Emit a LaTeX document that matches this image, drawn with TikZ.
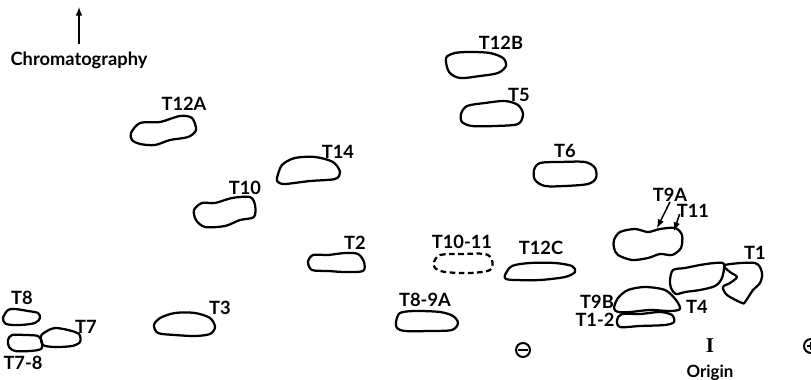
\documentclass[tikz,border=0pt]{standalone}
\usepackage{fontspec}
\setmainfont{Lato}
\newfontfamily\serifI{Liberation Serif}
\usepackage{tikz}
\usetikzlibrary{arrows,positioning,calc}

\tikzset{
  spot/.style={line width=1.6pt, line join=round},
  faint/.style={spot, dashed, dash pattern=on 4pt off 2.5pt},
  lbl/.style={inner sep=0pt, font=\fontsize{13}{15}\selectfont\bfseries},
  pointer/.style={-latex, line width=1.1pt}
}

\begin{document}
\begin{tikzpicture}[x=0.025cm, y=-0.025cm]
\useasboundingbox (0,0) rectangle (811,380);

% direction of chromatography
\node[lbl] (chrom) at (79,60) {Chromatography};
\coordinate (chromtop) at (79,7);
\draw[pointer, shorten <=5pt] (chrom.north) -- (chromtop);

% upper spots
\draw[spot] plot[smooth cycle] coordinates {(131,133) (140,123) (160,122) (180,116) (192,118) (196,130) (188,137) (170,140) (155,145) (140,144) (132,140)};
\node[lbl] (t12a) at (184,104) {T12A};

\draw[spot] plot[smooth cycle] coordinates {(277,178) (282,165) (295,158) (315,157) (333,162) (340,172) (335,179) (310,181) (285,184) (278,182)};
\node[lbl] (t14) at (338,152) {T14};

\draw[spot] plot[smooth cycle] coordinates {(194,210) (202,203) (215,203) (232,198) (250,197) (255,205) (254,217) (240,220) (225,226) (205,227) (196,220)};
\node[lbl] (t10) at (245,188) {T10};

\draw[spot] plot[smooth cycle] coordinates {(446,58) (455,53) (470,52) (490,53) (503,58) (506,66) (498,73) (480,76) (460,78) (449,72)};
\node[lbl] (t12b) at (501,43) {T12B};

\draw[spot] plot[smooth cycle] coordinates {(461,114) (467,106) (485,103) (505,101) (518,105) (523,114) (518,124) (495,126) (472,126) (462,122)};
\node[lbl] (t5) at (519,95) {T5};

\draw[spot] plot[smooth cycle] coordinates {(534,170) (540,163) (560,162) (585,162) (595,168) (596,178) (588,184) (565,186) (545,186) (535,180)};
\node[lbl] (t6) at (565,151) {T6};

% middle row
\draw[spot] plot[smooth cycle] coordinates {(308,262) (313,255) (328,255) (345,253) (358,254) (364,262) (363,271) (345,272) (328,271) (312,270)};
\node[lbl] (t2) at (355,243) {T2};

\draw[faint] plot[smooth cycle] coordinates {(434,262) (440,255) (460,254) (485,254) (492,260) (490,270) (470,273) (445,272) (435,268)};
\node[lbl] (t1011) at (462,242) {T10-11};

\draw[spot] plot[smooth cycle] coordinates {(505,275) (512,266) (530,263) (555,263) (572,266) (575,272) (565,277) (540,280) (515,280) (506,279)};
\node[lbl] (t12c) at (541,248) {T12C};

\draw[spot] plot[smooth cycle] coordinates {(614,240) (620,232) (635,229) (648,232) (660,229) (675,228) (682,235) (681,248) (672,255) (660,254) (648,258) (632,260) (618,255) (614,248)};
\node[lbl] (t9a) at (670,195) {T9A};
\node[lbl] (t11) at (693,211) {T11};
\coordinate (t9aspot) at (657,228);
\coordinate (t11spot) at (674,231);
\draw[pointer] (t9a.south) -- (t9aspot);
\draw[pointer] ($(t11.west)+(3,3)$) -- (t11spot);

\draw[spot] plot[smooth cycle] coordinates {(670,280) (673,270) (685,268) (700,265) (715,263) (724,264) (722,278) (715,286) (700,290) (685,292) (676,294) (671,288)};
\node[lbl] (t4) at (697,307) {T4};

\draw[spot] plot[smooth cycle] coordinates {(725,265) (755,263) (762,273) (760,283) (753,290) (745,302) (742,303) (727,295) (723,287) (730,283) (737,277) (730,272)};
\node[lbl] (t1) at (755,253) {T1};

\draw[spot] plot[smooth cycle] coordinates {(614,308) (618,298) (628,290) (645,287) (665,290) (676,300) (680,309) (670,311) (650,310) (630,312) (618,312)};
\node[lbl] (t9b) at (597,302) {T9B};

\draw[spot] plot[smooth cycle] coordinates {(617,320) (622,314) (640,314) (660,312) (672,315) (674,322) (665,325) (640,326) (620,327)};
\node[lbl] (t12) at (595,320) {T1-2};

% lower row
\draw[spot] plot[smooth cycle] coordinates {(396,322) (400,313) (415,311) (440,312) (453,316) (458,323) (452,330) (430,331) (405,331) (397,328)};
\node[lbl] (t89a) at (425,300) {T8-9A};

\draw[spot] plot[smooth cycle] coordinates {(154,325) (160,318) (175,313) (195,313) (210,318) (215,327) (210,334) (195,336) (175,335) (158,333)};
\node[lbl] (t3) at (220,308) {T3};

\draw[spot] plot[smooth cycle] coordinates {(3,318) (8,310) (15,309) (28,311) (38,313) (40,318) (35,323) (20,325) (6,324)};
\node[lbl] (t8) at (22,298) {T8};

\draw[spot] plot[smooth cycle] coordinates {(8,340) (12,335) (25,335) (38,336) (42,342) (41,349) (30,351) (15,351) (9,347)};
\node[lbl] (t78) at (23,363) {T7-8};

\draw[spot] plot[smooth cycle] coordinates {(41,336) (47,331) (55,328) (68,330) (79,334) (80,342) (72,346) (55,347) (43,345)};
\node[lbl] (t7) at (86,327) {T7};

% electrodes and origin
\draw[line width=1.4pt] (523,350) circle (7);
\draw[line width=1.6pt] (518,350) -- (528,350);
\draw[line width=1.4pt] (811,346) circle (7);
\draw[line width=1.4pt] (811,342) -- (811,350) (807,346) -- (811,346);
\node[inner sep=0pt, font=\fontsize{15}{17}\selectfont\serifI\bfseries] (orig) at (710,346) {I};
\node[lbl, font=\fontsize{12}{14}\selectfont\bfseries] (origin) at (710,373) {Origin};
\end{tikzpicture}
\end{document}
